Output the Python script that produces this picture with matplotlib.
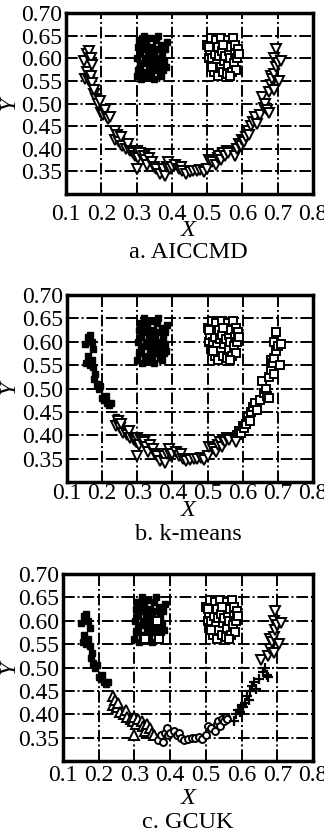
import matplotlib
matplotlib.use('Agg')
import matplotlib.pyplot as plt

plt.rcParams['font.family'] = ['Liberation Serif', 'DejaVu Serif']

# left eye
eye1_x = [0.300, 0.305, 0.302, 0.305, 0.308, 0.310, 0.312, 0.315, 0.318, 0.320,
          0.322, 0.325, 0.328, 0.330, 0.332, 0.335, 0.338, 0.340, 0.342, 0.345,
          0.348, 0.350, 0.352, 0.355, 0.358, 0.360, 0.362, 0.365, 0.368, 0.370,
          0.372, 0.375, 0.378, 0.380, 0.382, 0.385, 0.315, 0.345, 0.325, 0.360,
          0.310, 0.370]
eye1_y = [0.560, 0.575, 0.600, 0.625, 0.640, 0.610, 0.555, 0.590, 0.620, 0.650,
          0.570, 0.600, 0.635, 0.560, 0.615, 0.585, 0.645, 0.600, 0.570, 0.625,
          0.555, 0.610, 0.590, 0.640, 0.575, 0.620, 0.600, 0.565, 0.585, 0.630,
          0.610, 0.575, 0.595, 0.620, 0.580, 0.635, 0.640, 0.580, 0.625, 0.650,
          0.585, 0.560]

# right eye
eye2_x = [0.500, 0.505, 0.508, 0.510, 0.512, 0.515, 0.518, 0.520, 0.522, 0.525,
          0.528, 0.530, 0.532, 0.535, 0.538, 0.540, 0.542, 0.545, 0.548, 0.550,
          0.552, 0.555, 0.558, 0.560, 0.562, 0.565, 0.568, 0.570, 0.572, 0.575,
          0.578, 0.580, 0.582, 0.585, 0.588, 0.590, 0.515, 0.545, 0.565, 0.505]
eye2_y = [0.630, 0.600, 0.615, 0.585, 0.645, 0.600, 0.625, 0.570, 0.610, 0.640,
          0.590, 0.560, 0.625, 0.605, 0.580, 0.645, 0.615, 0.570, 0.595, 0.630,
          0.605, 0.565, 0.640, 0.585, 0.615, 0.600, 0.625, 0.570, 0.645, 0.590,
          0.610, 0.630, 0.575, 0.600, 0.620, 0.610, 0.580, 0.630, 0.560, 0.625]

# mouth (U curve)
mouth_x = [0.150, 0.155, 0.160, 0.160, 0.165, 0.165, 0.170, 0.170, 0.175, 0.175,
           0.178, 0.180, 0.185, 0.190, 0.195, 0.200, 0.205, 0.210, 0.215, 0.220,
           0.225, 0.240, 0.240, 0.245, 0.250, 0.255, 0.260, 0.270, 0.275, 0.280,
           0.290, 0.295, 0.300, 0.300, 0.305, 0.310, 0.320, 0.325, 0.330, 0.335,
           0.345, 0.350, 0.355, 0.365, 0.375, 0.380, 0.385, 0.390, 0.395, 0.400,
           0.410, 0.420, 0.425, 0.430, 0.440, 0.450, 0.460, 0.470, 0.480, 0.490,
           0.500, 0.505, 0.515, 0.525, 0.530, 0.535, 0.540, 0.545, 0.550, 0.555,
           0.560, 0.580, 0.585, 0.590, 0.595, 0.600, 0.605, 0.610, 0.615, 0.620,
           0.625, 0.630, 0.635, 0.640, 0.650, 0.655, 0.660, 0.665, 0.670, 0.675,
           0.675, 0.680, 0.680, 0.685, 0.690, 0.690, 0.690, 0.695, 0.695, 0.700,
           0.705, 0.710]
mouth_y = [0.595, 0.555, 0.610, 0.570, 0.615, 0.550, 0.600, 0.560, 0.585, 0.545,
           0.520, 0.530, 0.510, 0.500, 0.505, 0.480, 0.475, 0.485, 0.470, 0.465,
           0.470, 0.440, 0.420, 0.430, 0.415, 0.425, 0.405, 0.400, 0.410, 0.395,
           0.390, 0.385, 0.395, 0.355, 0.380, 0.390, 0.385, 0.375, 0.365, 0.380,
           0.370, 0.360, 0.355, 0.345, 0.355, 0.340, 0.360, 0.370, 0.355, 0.360,
           0.365, 0.355, 0.360, 0.350, 0.345, 0.348, 0.350, 0.350, 0.352, 0.348,
           0.355, 0.375, 0.370, 0.365, 0.380, 0.385, 0.375, 0.390, 0.385, 0.395,
           0.390, 0.385, 0.400, 0.410, 0.405, 0.420, 0.415, 0.425, 0.440, 0.430,
           0.450, 0.460, 0.470, 0.455, 0.475, 0.515, 0.490, 0.500, 0.485, 0.480,
           0.525, 0.540, 0.560, 0.555, 0.530, 0.565, 0.600, 0.580, 0.620, 0.590,
           0.550, 0.595]

# cluster labels per panel: f filled square, s open square, t down triangle,
# u up triangle, o open circle, + plus
eye1_lab = {
    'a': 'ffffffffffffffffffffffffffffffffffffffffff',
    'b': 'ffffffffffffffffffffffffffffffffffffffffff',
    'c': 'fffffffffffffsffffffffffffsffffffffffffffs',
}
eye2_lab = {
    'a': 'ssssssssssssssssssssssssssssssssssssssss',
    'b': 'ssssssssssssssssssssssssssssssssssssssss',
    'c': 'ssssssssssssssssssssssssssssssssssssssss',
}
mouth_lab = {
    'a': ('tttttttttt' 'tttttttttt' 'tttttttttt' 'tttttttttt' 'tttttttttt'
          'tttttttttt' 'tttttttttt' 'tttttttttt' 'tttttttttt' 'tttttttttt'
          'tt'),
    'b': ('ffffffffff' 'ffffffffff' 'fftttttttt' 'tttttttttt' 'tttttttttt'
          'tttttttttt' 'tttttttttt' 'ttssssssss' 'ssssssssss' 'ssssssssss'
          'ss'),
    'c': ('ffffffffff' 'ffffffffff' 'fuuuuuuuuu' 'uuuuuuuuuu' 'uuuooooooo'
          'oooooooooo' 'oooooooooo' 'o+++++++++' '+++++t++++' 'tttttttttt'
          'tt'),
}

captions = {'a': 'a. AICCMD', 'b': 'b. k-means', 'c': 'c. GCUK'}

styles = {
    'f': dict(marker='s', ms=4.5, mfc='black', mec='black', mew=1.0),
    's': dict(marker='s', ms=5.5, mfc='white', mec='black', mew=1.4),
    't': dict(marker='v', ms=6.5, mfc='white', mec='black', mew=1.4),
    'u': dict(marker='^', ms=6.5, mfc='white', mec='black', mew=1.4),
    'o': dict(marker='o', ms=5.0, mfc='white', mec='black', mew=1.4),
    '+': dict(marker='+', ms=7.0, mfc='none', mec='black', mew=1.6),
}

W, H = 324, 832
fig = plt.figure(figsize=(W / 100, H / 100), dpi=100)

# pixel layout: left, right, top, bottom, ticklabel pad, X label y, caption y, Y label y
layout = {
    'a': (66, 313, 13, 194, 7, 231, 252, 103),
    'b': (67, 313, 295, 482, 1, 511, 534, 387),
    'c': (63, 313, 574, 761, 3, 798, 822, 667),
}

for key in ['a', 'b', 'c']:
    l, r, t, b, pad, xl_y, cap_y, yl_y = layout[key]
    ax = fig.add_axes([l / W, 1 - b / H, (r - l) / W, (b - t) / H])

    groups = [(eye1_x, eye1_y, eye1_lab[key]),
              (eye2_x, eye2_y, eye2_lab[key]),
              (mouth_x, mouth_y, mouth_lab[key])]
    pts = {}
    for xs, ys, labs in groups:
        for x, y, c in zip(xs, ys, labs):
            pts.setdefault(c, ([], []))
            pts[c][0].append(x)
            pts[c][1].append(y)
    for c, (xs, ys) in pts.items():
        ax.plot(xs, ys, linestyle='none', zorder=3, **styles[c])

    ax.set_xlim(0.1, 0.8)
    ax.set_ylim(0.30, 0.70)
    ax.set_xticks([0.1, 0.2, 0.3, 0.4, 0.5, 0.6, 0.7, 0.8])
    ax.set_xticklabels(['0.1', '0.2', '0.3', '0.4', '0.5', '0.6', '0.7', '0.8'])
    ax.set_yticks([0.35, 0.40, 0.45, 0.50, 0.55, 0.60, 0.65, 0.70])
    ax.set_yticklabels(['0.35', '0.40', '0.45', '0.50', '0.55', '0.60', '0.65', '0.70'])
    ax.tick_params(length=0, labelsize=17, colors='black')
    ax.tick_params(axis='x', pad=pad)
    ax.tick_params(axis='y', pad=3)
    ax.grid(True, color='black', linewidth=1.4,
            linestyle=(0, (6, 1.5, 1, 1.5)), zorder=1)
    for sp in ax.spines.values():
        sp.set_linewidth(2.5)

    fig.text(188 / W, 1 - xl_y / H, 'X', fontsize=17.5, style='italic',
             ha='center', va='center')
    fig.text(188 / W, 1 - cap_y / H, captions[key], fontsize=17.5,
             ha='center', va='center')
    fig.text(9 / W, 1 - yl_y / H, 'Y', fontsize=17, style='italic',
             rotation=90, ha='center', va='center')

fig.savefig('out.png', dpi=100)
